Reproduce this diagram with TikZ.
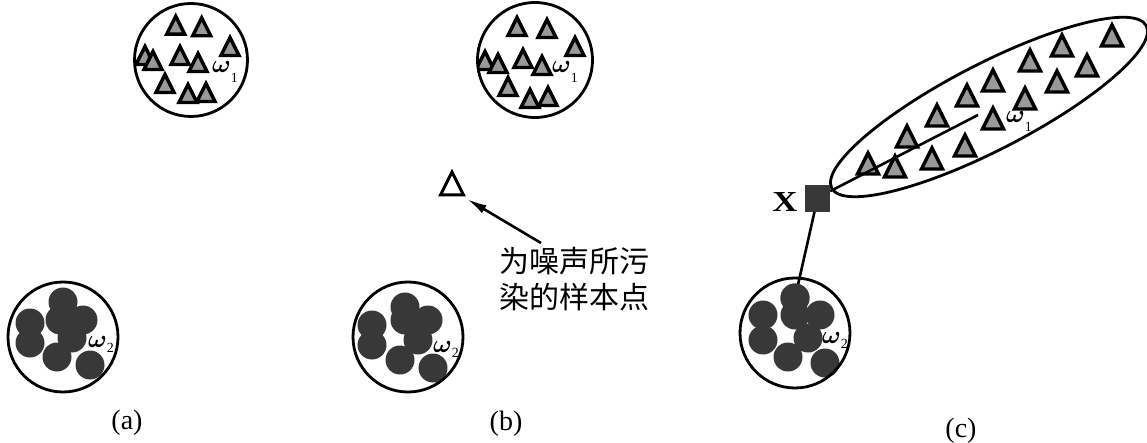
\documentclass[tikz,border=0pt]{standalone}
\usepackage{fontspec}
\usepackage{amsmath}
\setmainfont{Liberation Serif}
\newfontfamily\cjk{Noto Sans CJK SC}
\usetikzlibrary{arrows.meta}
\definecolor{trifill}{gray}{0.6}
\definecolor{blobfill}{gray}{0.22}
\begin{document}
\begin{tikzpicture}[x=1pt,y=-1pt,
  ring/.style={draw,line width=2.8pt,circle,inner sep=0pt,minimum size=#1},
  blob/.style={circle,fill=blobfill,inner sep=0pt,minimum size=29pt},
  triline/.style={draw=black,fill=trifill,line width=3.4pt,line join=miter},
  tri/.pic={\path[triline] (0,-10.5) -- (9,7.5) -- (-9,7.5) -- cycle;},
  bigtri/.pic={\path[triline] (0,-12) -- (10.5,9) -- (-10.5,9) -- cycle;},
  conn/.style={line width=2.6pt},
  panellabel/.style={font=\fontsize{28}{30}\selectfont},
  om/.style={font=\fontsize{25}{27}\selectfont,inner sep=0pt,anchor=west}
]
\useasboundingbox (0,0) rectangle (1147,443);

% ---------- panel (a) ----------
\begin{scope}
  \clip (191,60) circle [radius=56.5pt];
  \foreach \x/\y in {175.7/26.7, 201.7/28.3, 230/48, 145/57, 153/62, 180/57, 198/64, 165/85, 188/95, 206/94}
    \pic at (\x,\y) {tri};
\end{scope}
\node[ring=113pt] (a1) at (191,60) {};
\node[om] (a1l) at (212,72) {$\boldsymbol{\omega}$\raisebox{-10pt}{\fontsize{14}{14}\selectfont 1}};

\foreach \x/\y [count=\i] in {30/323, 30/343, 63/302, 60/320, 83/320, 72/338, 57/357, 90/365}
  \node[blob] (ab\i) at (\x,\y) {};
\node[ring=110pt] (a2) at (63,337) {};
\node[om] (a2l) at (88,344) {$\boldsymbol{\omega}$\raisebox{-5pt}{\fontsize{14}{14}\selectfont 2}};
\node[panellabel] (capa) at (127,423) {(a)};

% ---------- panel (b) ----------
\begin{scope}
  \clip (535,60) circle [radius=57.5pt];
  \foreach \x/\y in {517/28, 547/30, 575/48, 485/62, 498/65, 523/60, 542/67, 508/88, 530/100, 548/98}
    \pic at (\x,\y) {tri};
\end{scope}
\node[ring=115pt] (b1) at (535,60) {};
\node[om] (b1l) at (552,72) {$\boldsymbol{\omega}$\raisebox{-10pt}{\fontsize{14}{14}\selectfont 1}};

\foreach \x/\y [count=\i] in {372/325, 372/345, 405/307, 405/320, 428/320, 418/340, 400/360, 433/368}
  \node[blob] (bb\i) at (\x,\y) {};
\node[ring=110pt] (b2) at (408,337) {};
\node[om] (b2l) at (433,349) {$\boldsymbol{\omega}$\raisebox{-5pt}{\fontsize{14}{14}\selectfont 2}};
\node[panellabel] (capb) at (506,424) {(b)};

\coordinate (noise) at (452,186);
\draw[line width=3pt,line join=miter] (noise) ++(0,-14) -- ++(11.5,23) -- ++(-23,0) -- cycle;
\coordinate (noisetip) at (467,199);
\node[font=\cjk\fontsize{30}{36}\selectfont,align=left,inner sep=0pt,anchor=north west] (lbl) at (499,247) {为噪声所污\\染的样本点};
\coordinate (arrS) at (541,243);
\draw[conn,-{Latex[length=20pt,width=9pt]}] (arrS) -- (noisetip);

% ---------- panel (c) ----------
\draw[line width=2.8pt] (989,107) [rotate around={27.3:(989,107)}] ellipse [x radius=177pt, y radius=43pt];
\foreach \x/\y in {868/165, 895/168, 907/138, 932/160, 937/117, 965/147, 967/97, 993/120, 993/82, 1025/100, 1030/62, 1057/83, 1062/47, 1087/67, 1112/37}
  \pic at (\x,\y) {bigtri};
\node[om] (c1l) at (1006,121) {$\boldsymbol{\omega}$\raisebox{-9pt}{\fontsize{14}{14}\selectfont 1}};

\coordinate (m1) at (978,115);
\node[fill=blobfill,minimum width=25pt,minimum height=27pt,inner sep=0pt] (X) at (817.5,198.5) {};
\draw[conn] (X.30) -- (m1);

\node[blob] (cb3) at (795,298) {};
\draw[conn] (X.center) -- (cb3.center);
\foreach \x/\y [count=\i] in {763/315, 763/340, 795/298, 795/315, 820/315, 808/338, 788/357, 825/363}
  \node[blob] (cb\i) at (\x,\y) {};
\node[fill=blobfill,minimum width=25pt,minimum height=27pt,inner sep=0pt] (X) at (817.5,198.5) {};
\node[ring=110pt] (c2) at (795,333) {};
\node[om] (c2l) at (822,340) {$\boldsymbol{\omega}$\raisebox{-5pt}{\fontsize{14}{14}\selectfont 2}};
\node[font=\bfseries\fontsize{29}{30}\selectfont,inner sep=0pt] (Xl) at (785,202) {\scalebox{1.2}[1]{X}};
\node[panellabel] (capc) at (961,431) {(c)};
\end{tikzpicture}
\end{document}
